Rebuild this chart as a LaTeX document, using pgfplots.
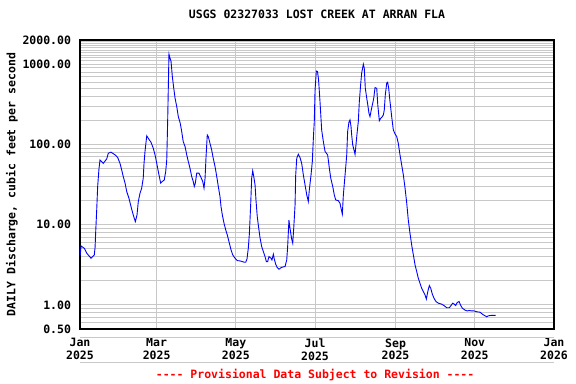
\documentclass[border=0pt]{standalone}
\usepackage{fontspec}
\setmainfont{DejaVu Sans Mono}[Ligatures=TeXOff]
\usepackage{pgfplots}
\pgfplotsset{compat=1.18}
\definecolor{gridgray}{RGB}{200,200,200}
\newcommand{\cf}{\fontsize{11.5bp}{12.8bp}\selectfont\bfseries}
\begin{document}
\begin{tikzpicture}
\useasboundingbox (0,0) rectangle (576bp,384bp);
\begin{axis}[
  at={(80bp,55bp)}, anchor=south west,
  scale only axis, width=474bp, height=289bp,
  ymode=log, ymin=0.5, ymax=2000, xmin=0, xmax=365,
  clip=false,
  axis line style={black, line width=1.3bp},
  /pgf/number format/assume math mode=true,
  xtick={0,59,120,181,243,304,365},
  xticklabels={Jan\\2025,Mar\\2025,May\\2025,Jul\\2025,Sep\\2025,Nov\\2025,Jan\\2026},
  xticklabel style={align=center, font=\cf, yshift=-6bp},
  ytick={0.5,1,10,100,1000,2000},
  yticklabels={0.50,1.00,10.00,100.00,1000.00,2000.00},
  yticklabel style={font=\cf, xshift=-5.5bp},
  minor ytick={0.6,0.7,0.8,0.9,2,3,4,5,6,7,8,9,20,30,40,50,60,70,80,90,200,300,400,500,600,700,800,900,1100,1200,1300,1400,1500,1600,1700,1800,1900},
  major tick length=0pt, minor tick length=0pt,
  xmajorgrids, ymajorgrids, yminorgrids,
  major grid style={gridgray, line width=0.8bp},
  minor grid style={gridgray, line width=0.8bp},
  title={USGS 02327033 LOST CREEK AT ARRAN FLA},
  title style={font=\cf, at={(0.5,1)}, anchor=center, yshift=19.5bp},
  ylabel={DAILY Discharge, cubic feet per second},
  ylabel style={font=\cf, at={(axis description cs:-0.1435,0.5)}, anchor=center},
]
\addplot[blue, line width=0.9bp, sharp plot] table {
x y
0.2 4.19
0.8 5.42
3.3 5.07
5.2 4.40
8.5 3.81
11.0 4.19
11.6 5.18
12.1 8.18
12.9 15.7
13.6 29.8
14.6 49.4
15.4 64
17.9 58
20.6 66
21.8 77.6
23.9 80
27.0 74
29.0 68.7
30.8 58
32.1 48
33.3 39.8
34.7 32.9
36.0 25.8
37.7 21.3
39.3 16.7
41.0 13.2
42.6 10.9
43.9 13.2
44.9 19.4
46.2 24.6
47.5 28.5
48.7 37.9
49.3 58
50.1 83
51.4 127.8
52.6 119
54.7 106
56.4 89.7
57.8 74
59.1 58
60.3 45.9
62.1 32.9
63.4 34.5
64.9 36
66.0 45.9
66.8 64
67.5 192
68.5 1334
69.3 1190
70.1 1085
71.1 700
72.2 500
73.2 377
74.5 296
75.7 222
77.2 183
78.3 145
79.5 108
80.9 94
82.2 74
83.4 61
84.7 50.4
86.0 39.8
87.2 34.5
88.0 29.9
88.8 32.9
89.9 43.8
91.6 43.8
93.2 38.6
94.5 34.5
95.5 28.5
96.3 37.9
97.0 67
98.0 131
98.8 125
100.1 103
101.4 85
102.6 67
104.0 52.8
105.3 39.8
106.5 29.9
107.8 22.4
108.6 16.7
109.6 13.2
110.9 10.4
112.2 8.6
113.4 7.44
114.7 6.15
116.3 4.84
117.6 4.19
119.4 3.81
121.1 3.56
123.2 3.53
125.0 3.46
126.5 3.40
127.6 3.40
128.6 3.73
129.6 5.08
130.4 7.6
131.4 17.2
132.2 37.9
133.0 46.9
133.8 39.8
134.8 31.2
135.5 20.3
136.5 12.6
137.3 9.9
138.6 6.9
139.9 5.32
141.2 4.61
142.5 3.99
143.5 3.46
144.5 3.46
145.5 3.99
147.1 3.81
147.8 3.63
148.9 4.27
149.6 3.73
150.7 3.21
151.9 2.91
153.2 2.78
155.3 2.94
157.9 3.0
159.2 3.63
159.9 5.32
160.9 11.4
161.7 9.0
163.0 6.6
163.8 5.87
164.6 9.1
165.6 17.6
166.1 41.5
166.9 67
168.1 75.3
169.4 68.7
170.7 58
172.0 41.5
173.3 31.2
174.6 23.5
175.8 19.4
176.6 27.2
177.9 41.5
178.9 61
179.7 119
180.4 192
181.0 478
182.0 820
182.9 807
183.7 640
184.8 343
186.1 151
187.4 108
188.7 81.5
190.7 74
192.0 50.4
193.1 37.9
194.6 29.9
195.8 23.5
196.9 20.3
198.9 19.9
200.2 18.5
201.0 16
202.0 13.5
202.8 23.5
204.1 41.5
205.4 74
206.1 145
207.1 189
207.9 202
208.7 167
209.2 131
210.0 98.5
211.0 85
211.8 75
212.5 98.5
213.5 145
214.3 192
215.1 343
216.2 580
216.9 775
218.2 1000
218.9 890
219.7 500
220.8 377
221.8 296
222.5 245
223.3 222
224.6 284
225.4 325
226.2 377
227.2 510
228.5 500
229.3 311
230.5 197
231.6 212
232.8 222
233.6 233
234.3 268
235.1 415
236.2 580
236.9 595
237.7 500
238.7 343
240.0 222
241.3 151
242.6 135
243.9 125
245.1 103
246.4 74
247.7 55.6
249.0 41.5
250.3 28.5
251.6 18.5
252.8 11.4
254.1 7.8
255.4 5.59
256.7 4.19
258.0 3.14
259.3 2.60
260.5 2.15
261.8 1.86
263.1 1.61
264.4 1.46
265.7 1.33
266.7 1.18
267.8 1.46
269.0 1.74
270.1 1.61
271.3 1.36
272.6 1.21
274.1 1.10
275.9 1.05
278.5 1.02
280.3 0.98
282.4 0.92
284.4 0.92
285.7 0.98
287.0 1.05
288.2 1.02
289.3 0.98
290.5 1.07
291.9 1.10
293.2 0.98
294.4 0.91
296.5 0.86
298.2 0.84
299.8 0.85
301.6 0.84
303.4 0.84
305.5 0.82
308.0 0.81
310.1 0.76
311.9 0.73
313.2 0.71
314.4 0.73
317.0 0.74
320.1 0.74
};
\draw[gridgray, line width=0.8bp] (rel axis cs:0,-0.0277) -- (rel axis cs:1,-0.0277);
\draw[gridgray, line width=0.8bp] (rel axis cs:0,-0.114) -- (rel axis cs:1,-0.114);
\node[red, font=\cf, anchor=center] at (rel axis cs:0.496,-0.159) {---- Provisional Data Subject to Revision ----};
\end{axis}
\end{tikzpicture}
\end{document}
